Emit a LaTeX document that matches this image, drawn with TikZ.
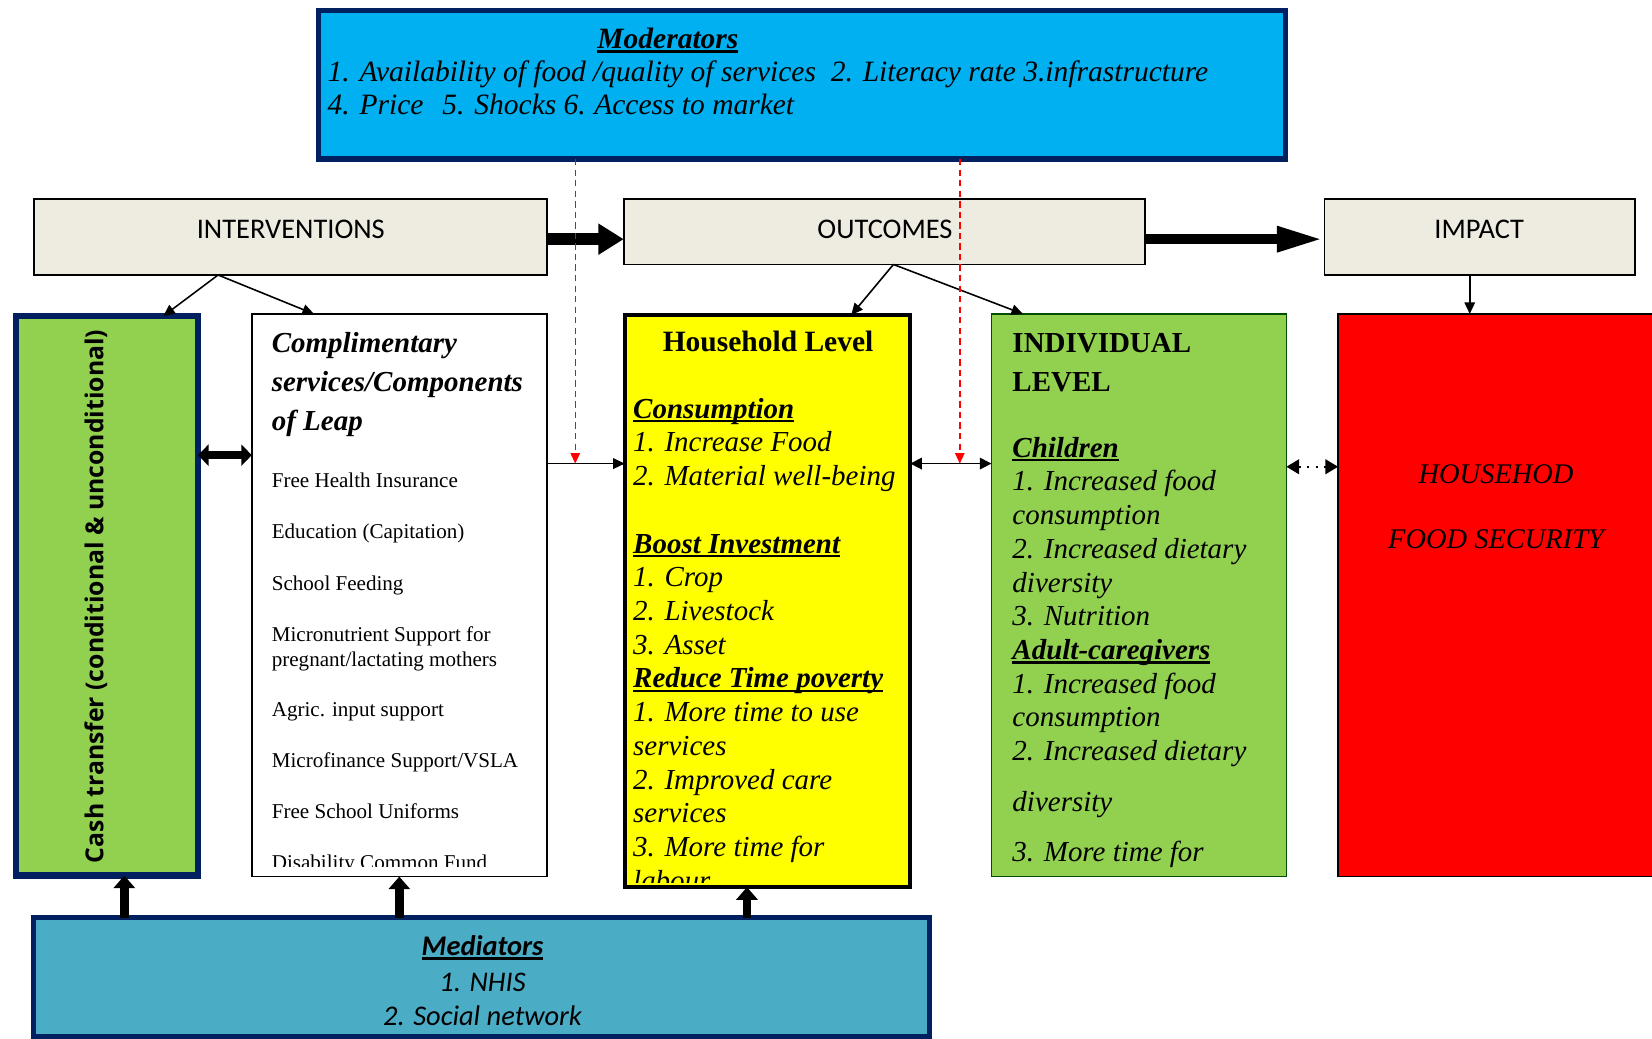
\documentclass[tikz,border=0pt]{standalone}
\usepackage{fontspec}
\setmainfont{Liberation Serif}
\newfontfamily\calib{Carlito}
\newfontfamily\osans{Open Sans}
\usetikzlibrary{arrows.meta,calc}
\definecolor{navyc}{HTML}{002060}
\definecolor{cyanc}{HTML}{00B0F0}
\definecolor{medc}{HTML}{4BACC6}
\definecolor{greenc}{HTML}{92D050}
\definecolor{beigec}{HTML}{EEECE1}
\definecolor{yellowc}{HTML}{FFFF00}
\definecolor{redc}{HTML}{FF0000}
\newcommand\myul[1]{\setbox0=\hbox{#1}\rlap{\rule[-4pt]{\wd0}{2.4pt}}\box0}
\newcommand\fbody{\fontsize{27.5}{32}\selectfont}
\newcommand\fhead{\fontsize{27.5}{37}\selectfont}
\newcommand\fitem{\fontsize{20}{24}\selectfont}
\begin{document}
\begin{tikzpicture}[x=1pt,y=-1pt,
  boxn/.style={draw, rectangle, inner sep=0pt, outer sep=0pt, anchor=north west},
  txt/.style={inner sep=0pt, outer sep=0pt, anchor=north west, align=left},
  lab/.style={inner sep=0pt, outer sep=0pt, anchor=base},
  bigarrow/.style={line width=11pt, -{Triangle[length=24pt,width=28pt]}},
  longarrow/.style={line width=10pt, -{Triangle[length=45pt,width=22pt]}},
  thinarrow/.style={line width=1.5pt, -{Triangle[length=11pt,width=10pt]}},
  thindbl/.style={line width=1.5pt, {Triangle[length=11pt,width=11pt]}-{Triangle[length=11pt,width=11pt]}},
  thickdbl/.style={line width=7pt, {Triangle[length=10pt,width=20pt]}-{Triangle[length=10pt,width=20pt]}},
  uparrow/.style={line width=8pt, -{Triangle[length=12pt,width=20pt]}},
  reddash/.style={draw=redc, line width=1.3pt, dash pattern=on 6pt off 4pt, -{Triangle[length=10pt,width=9pt]}, redc},
  dotdbl/.style={line width=1.5pt, dash pattern=on 2pt off 6pt, {Triangle[length=12pt,width=14pt]}-{Triangle[length=12pt,width=14pt]}}
]
\useasboundingbox (0,0) rectangle (1568,986);
\clip (0,0) rectangle (1568,986);
\fill[white] (0,0) rectangle (1568,986);

% boxes
\node[boxn, fill=cyanc, draw=navyc, line width=5pt, minimum width=918pt, minimum height=141pt] (mod) at (302,10) {};
\node[boxn, fill=beigec, line width=1.5pt, minimum width=487pt, minimum height=72pt] (interv) at (32,189) {};
\node[boxn, fill=beigec, line width=1.5pt, minimum width=495pt, minimum height=62pt] (outc) at (592,189) {};
\node[boxn, fill=beigec, line width=1.5pt, minimum width=295pt, minimum height=72pt] (impact) at (1257,189) {};
\node[boxn, fill=greenc, draw=navyc, line width=6pt, minimum width=173pt, minimum height=531pt] (cash) at (15,300) {};
\node[boxn, fill=white, line width=1.5pt, minimum width=280pt, minimum height=534pt] (compl) at (239,298) {};
\node[boxn, fill=yellowc, line width=3.5pt, minimum width=271pt, minimum height=543pt] (house) at (593,299) {};
\node[boxn, fill=greenc, draw=black!70!green, line width=1.5pt, minimum width=280pt, minimum height=534pt] (indiv) at (941,298) {};
\node[boxn, fill=redc, line width=1.5pt, minimum width=330pt, minimum height=534pt] (foodsec) at (1270,298) {};
\node[boxn, fill=medc, draw=navyc, line width=5pt, minimum width=850pt, minimum height=113pt] (med) at (32,871) {};

\coordinate (lvl) at (0,440);
\coordinate (lvlb) at (0,443);

% connectors
\draw[bigarrow] ([yshift=-2pt]interv.east) -- ([yshift=-2pt]interv.east -| outc.west);
\draw[longarrow] ([yshift=-7pt]outc.east) -- ([yshift=-7pt]outc.east -| impact.west);
\draw[thinarrow] ([xshift=-68.5pt]interv.south) -- ([xshift=53.5pt]cash.north);
\draw[thinarrow] ([xshift=-68.5pt]interv.south) -- ([xshift=-81pt]compl.north);
\draw[thinarrow] ([xshift=8.5pt]outc.south) -- ([xshift=79.5pt]house.north);
\draw[thinarrow] ([xshift=8.5pt]outc.south) -- ([xshift=-110pt]indiv.north);
\draw[thinarrow] ([xshift=-9.5pt]impact.south) -- ([xshift=-9.5pt]impact.south |- foodsec.north);
\draw[thickdbl] (cash.east |- 0,432) -- (compl.west |- 0,432);
\draw[thinarrow] (compl.east |- lvl) -- (house.west |- lvl);
\draw[thindbl] (house.east |- lvl) -- (indiv.west |- lvl);
\draw[dotdbl] (indiv.east |- lvlb) -- (foodsec.west |- lvlb);
\draw[reddash] ([xshift=-215pt]mod.south) -- ([xshift=-215pt]mod.south |- lvl);
\draw[reddash] ([xshift=150pt]mod.south) -- ([xshift=150pt]mod.south |- lvl);
\draw[uparrow] ([xshift=-339pt]med.north) -- ([xshift=-339pt]med.north |- cash.south);
\draw[uparrow] ([xshift=-78pt]med.north) -- ([xshift=-78pt]med.north |- compl.south);
\draw[uparrow] ([xshift=252pt]med.north) -- ([xshift=252pt]med.north |- house.south);

% texts: moderators
\node[lab] (modT) at (634,46) {\fontsize{28}{32}\selectfont\bfseries\itshape\myul{Moderators}};
\node[txt, font=\fontsize{28}{32}\selectfont\itshape] (modL) at (311,54.6) {\strut 1. Availability of food /quality of services\hspace{14pt}2. Literacy rate 3.infrastructure\\
4. Price\hspace{18pt}5. Shocks 6.\hspace{8pt}Access to market};

% headers
\node[lab] (intervT) at (276,226) {\calib\fontsize{27}{32}\selectfont INTERVENTIONS};
\node[lab] (outcT) at (840,226) {\calib\fontsize{27}{32}\selectfont OUTCOMES};
\node[lab] (impactT) at (1404,226) {\calib\fontsize{27}{32}\selectfont IMPACT};

% cash
\node[inner sep=0pt, rotate=90] (cashT) at (91,566) {\osans\bfseries\fontsize{23.5}{28}\selectfont Cash transfer (conditional \& unconditional)};

% complimentary
\node[txt, font=\fhead\bfseries\itshape] (complT) at (258,309.1) {\strut Complimentary\\ services/Components\\ of Leap};
\begin{scope}
\clip (239,298) rectangle (519,822);
\node[txt, font=\fitem] (complL) at (258,446.2) {\strut Free Health Insurance\\[24.5pt]
Education (Capitation)\\[24.5pt]
School Feeding\\[24.5pt]
Micronutrient Support for\\
pregnant/lactating mothers\\[24pt]
Agric. input support\\[24pt]
Microfinance Support/VSLA\\[24.5pt]
Free School Uniforms\\[24.5pt]
Disability Common Fund};
\end{scope}

% household
\node[lab] (houseT) at (729,334) {\fontsize{28}{37}\selectfont\bfseries Household Level};
\begin{scope}
\clip (593,299) rectangle (864,838);
\node[txt, font=\fbody\itshape] (houseL) at (601,374.6) {\strut\myul{\bfseries Consumption}\\
1. Increase Food\\
2. Material well-being\\[32pt]
\myul{\bfseries Boost Investment}\\
1. Crop\\
2. Livestock\\
3. Asset\\
\myul{\bfseries Reduce Time poverty}\\
1. More time to use\\
services\\
2. Improved care\\
services\\
3. More time for\\
labour};
\end{scope}

% individual
\node[txt, font=\fontsize{27.5}{37}\selectfont\bfseries] (indivT) at (961,309.1) {\strut INDIVIDUAL\\ LEVEL};
\node[txt, font=\fbody\itshape] (indivL) at (961,411.6) {\strut\myul{\bfseries Children}\\
1. Increased food\\
consumption\\
2. Increased dietary\\
diversity\\
3. Nutrition\\
\myul{\bfseries Adult-caregivers}\\
1. Increased food\\
consumption\\
2. Increased dietary\\[16pt]
diversity\\[16pt]
3. More time for};

% food security
\node[lab] (fs1) at (1420,459) {\fontsize{27}{32}\selectfont\itshape HOUSEHOD};
\node[lab] (fs2) at (1420,521) {\fontsize{27}{32}\selectfont\itshape FOOD SECURITY};

% mediators
\node[lab] (medT) at (458,907) {\calib\fontsize{27}{32}\selectfont\bfseries\itshape\myul{Mediators}};
\node[lab] (med1) at (458,941) {\calib\fontsize{27}{32}\selectfont\itshape 1. NHIS};
\node[lab] (med2) at (458,973) {\calib\fontsize{27}{32}\selectfont\itshape 2. Social network};
\end{tikzpicture}
\end{document}
